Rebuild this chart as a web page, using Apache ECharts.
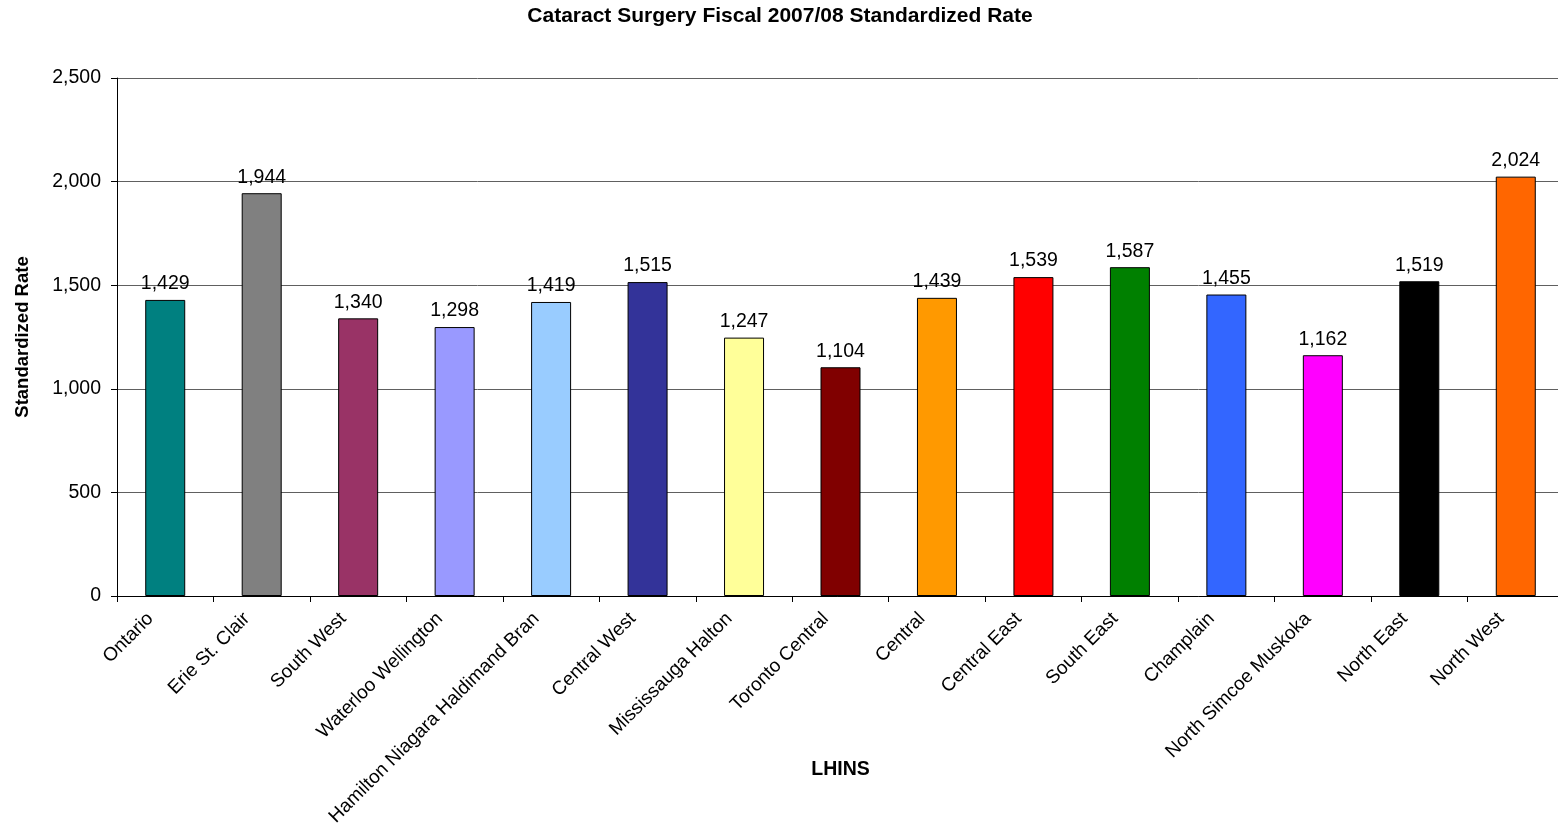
<!DOCTYPE html>
<html>
<head>
<meta charset="utf-8">
<script src="https://cdn.jsdelivr.net/npm/echarts@6/dist/echarts.min.js"></script>
<style>
  html, body { margin: 0; padding: 0; background: #ffffff; }
  #chart { width: 1558px; height: 823px; }
</style>
</head>
<body>
<div id="chart"></div>
<script>
// LHIN regions and their standardized cataract surgery rates, fiscal 2007/08
const categories = [
  'Ontario', 'Erie St. Clair', 'South West', 'Waterloo Wellington',
  'Hamilton Niagara Haldimand Brant', 'Central West', 'Mississauga Halton',
  'Toronto Central', 'Central', 'Central East', 'South East', 'Champlain',
  'North Simcoe Muskoka', 'North East', 'North West'
];
const rates = [1429, 1944, 1340, 1298, 1419, 1515, 1247, 1104, 1439, 1539, 1587, 1455, 1162, 1519, 2024];
const barColors = [
  '#008080', '#808080', '#993366', '#9999FF', '#99CCFF', '#333399', '#FFFF99',
  '#800000', '#FF9900', '#FF0000', '#008000', '#3366FF', '#FF00FF', '#000000', '#FF6600'
];

const FONT = '"Liberation Sans", Arial, sans-serif';
const chart = echarts.init(document.getElementById('chart'), null, { renderer: 'canvas' });

chart.setOption({
  backgroundColor: '#ffffff',
  animation: false,
  title: {
    text: 'Cataract Surgery Fiscal 2007/08 Standardized Rate',
    left: 775,
    textAlign: 'center',
    top: 1,
    textStyle: { fontFamily: FONT, fontSize: 21, fontWeight: 'bold', color: '#000' }
  },
  // fixed plot box; the long rotated labels are allowed to run off the bottom
  // and the plot runs a few pixels past the right edge of the page
  grid: {
    left: 117, right: -6, top: 78, bottom: 227,
    containLabel: false,
    outerBoundsMode: 'none'
  },
  xAxis: {
    type: 'category',
    data: categories,
    name: 'LHINS',
    nameLocation: 'middle',
    nameGap: 164,
    nameMoveOverlap: false,
    nameTextStyle: { fontFamily: FONT, fontSize: 19.5, fontWeight: 'bold', color: '#000' },
    axisLine: { lineStyle: { color: '#000', width: 1 } },
    axisTick: { show: true, alignWithLabel: false, length: 6, lineStyle: { color: '#000' } },
    axisLabel: {
      interval: 0,
      rotate: 45,
      margin: 5,
      padding: [0, 21, 0, 0],
      fontFamily: FONT,
      fontSize: 19,
      color: '#000',
      width: 290,
      overflow: 'truncate',
      ellipsis: ''
    }
  },
  yAxis: {
    type: 'value',
    min: 0,
    max: 2500,
    interval: 500,
    name: 'Standardized Rate',
    nameLocation: 'middle',
    nameGap: 85,
    nameMoveOverlap: false,
    nameTextStyle: { fontFamily: FONT, fontSize: 18.5, fontWeight: 'bold', color: '#000' },
    axisLine: { show: true, lineStyle: { color: '#000', width: 1 } },
    axisTick: { show: true, inside: false, length: 6, lineStyle: { color: '#000' } },
    axisLabel: {
      margin: 16,
      fontFamily: FONT,
      fontSize: 19.5,
      color: '#000',
      formatter: v => v.toLocaleString('en-US')
    },
    splitLine: { show: true, lineStyle: { color: '#606060', width: 1 } }
  },
  series: [{
    type: 'bar',
    data: rates.map((v, i) => ({ value: v, itemStyle: { color: barColors[i] } })),
    barWidth: 40,
    itemStyle: { borderColor: '#000', borderWidth: 1 },
    label: {
      show: true,
      position: 'top',
      distance: 6,
      fontFamily: FONT,
      fontSize: 19.5,
      color: '#000',
      formatter: p => p.value.toLocaleString('en-US')
    }
  }]
});
</script>
</body>
</html>
